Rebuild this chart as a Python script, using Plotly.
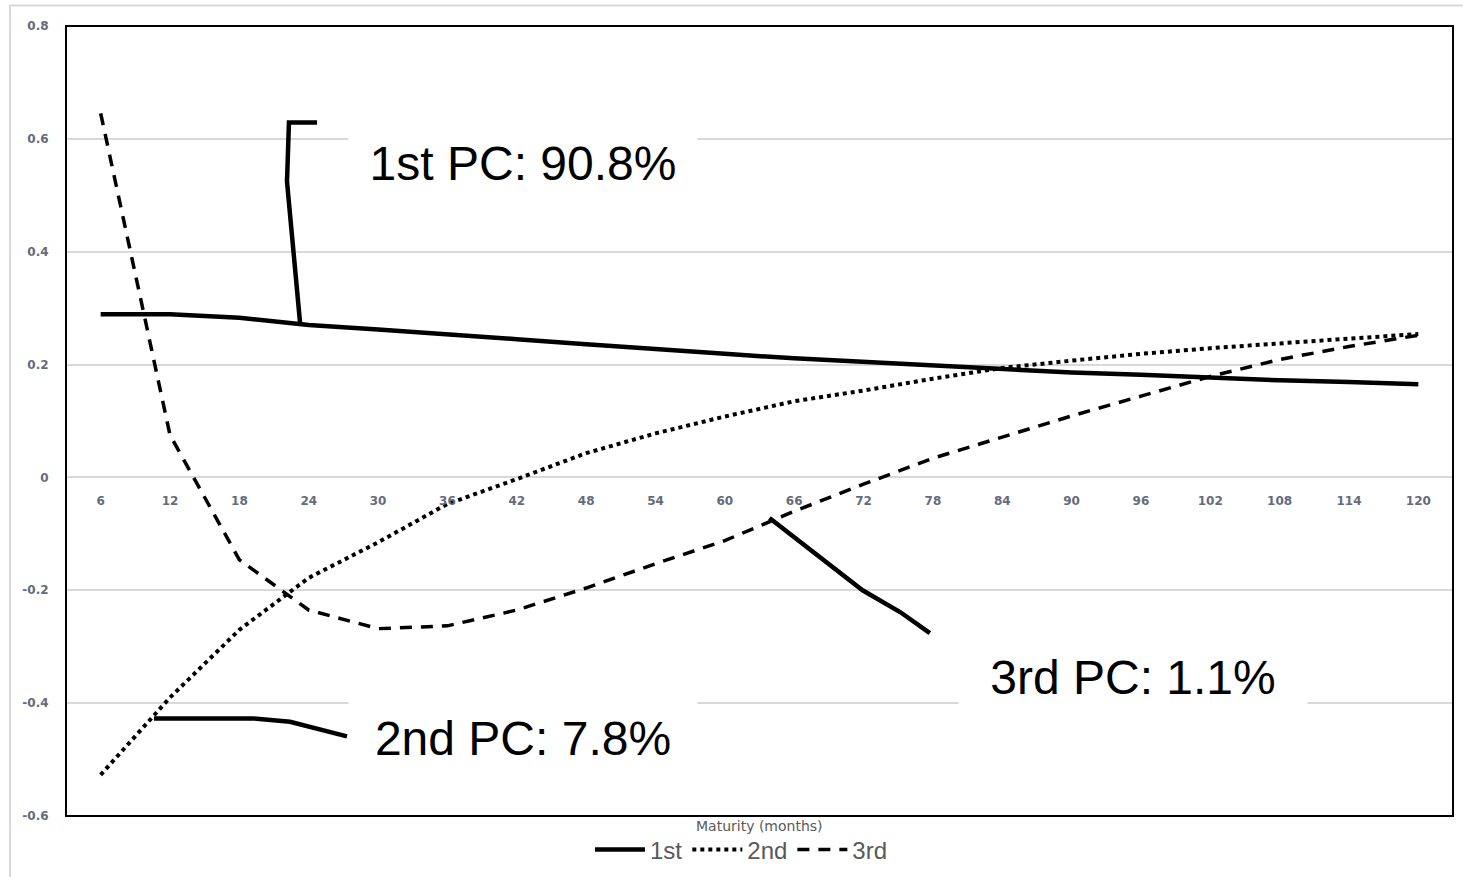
import plotly.graph_objects as go

# ---- data ----
maturity = [6, 12, 18, 24, 30, 36, 42, 48, 54, 60, 66, 72, 78, 84, 90, 96, 102, 108, 114, 120]
pc1 = [0.289, 0.289, 0.283, 0.270, 0.262, 0.254, 0.245, 0.236, 0.227, 0.219,
       0.211, 0.205, 0.198, 0.192, 0.186, 0.182, 0.176, 0.172, 0.169, 0.165]
pc2 = [-0.527, -0.390, -0.270, -0.178, -0.115, -0.047, -0.003, 0.043, 0.078, 0.108,
       0.135, 0.154, 0.175, 0.194, 0.207, 0.219, 0.229, 0.238, 0.246, 0.254]
pc3 = [0.645, 0.075, -0.146, -0.235, -0.268, -0.263, -0.235, -0.196, -0.153, -0.112,
       -0.060, -0.012, 0.034, 0.072, 0.109, 0.144, 0.179, 0.209, 0.232, 0.252]
series_names = ["1st", "2nd", "3rd"]

# callout labels and their leader lines (data coordinates)
label_texts = ["1st PC: 90.8%", "2nd PC: 7.8%", "3rd PC: 1.1%"]
label_x = [42.5, 42.55, 95.3]
label_y = [0.558, -0.461, -0.354]
pc1_leader_x = [24.72, 22.29, 22.12, 23.25]
pc1_leader_y = [0.629, 0.629, 0.524, 0.274]
pc2_leader_x = [10.61, 19.18, 22.38, 27.31]
pc2_leader_y = [-0.427, -0.427, -0.433, -0.459]
pc3_leader_x = [63.86, 71.92, 75.2, 77.74]
pc3_leader_y = [-0.072, -0.200, -0.239, -0.276]

y_ticks = [0.8, 0.6, 0.4, 0.2, 0, -0.2, -0.4, -0.6]
y_ticktext = ["0.8", "0.6", "0.4", "0.2", "0", "-0.2", "-0.4", "-0.6"]

tick_color = "#646b7c"
text_gray = "#595959"

fig = go.Figure()
fig.add_trace(go.Scatter(x=maturity, y=pc1, name=series_names[0], mode="lines",
                         line=dict(color="black", width=4.5)))
fig.add_trace(go.Scatter(x=maturity, y=pc2, name=series_names[1], mode="lines",
                         line=dict(color="black", width=4, dash="4px,4px")))
fig.add_trace(go.Scatter(x=maturity, y=pc3, name=series_names[2], mode="lines",
                         line=dict(color="black", width=3.5, dash="12px,9px")))

for lx, ly in [(pc1_leader_x, pc1_leader_y), (pc2_leader_x, pc2_leader_y), (pc3_leader_x, pc3_leader_y)]:
    fig.add_trace(go.Scatter(x=lx, y=ly, mode="lines", showlegend=False, hoverinfo="skip",
                             line=dict(color="black", width=4.5)))

for t, ax_, ay_ in zip(label_texts, label_x, label_y):
    fig.add_annotation(x=ax_, y=ay_, xref="x", yref="y", text=t, showarrow=False,
                       xanchor="center", yanchor="middle", bgcolor="white",
                       width=348, height=84, borderpad=0,
                       font=dict(family="Liberation Sans, Arial", size=48, color="black"))

fig.add_annotation(x=0.5, y=-0.0125, xref="paper", yref="paper", text="Maturity (months)",
                   showarrow=False, xanchor="center", yanchor="middle",
                   font=dict(family="DejaVu Sans", size=14, color=text_gray))

# plot-area box and outer chart border
fig.add_shape(type="rect", xref="paper", yref="paper", x0=0, x1=1, y0=0, y1=1,
              line=dict(color="black", width=2), layer="above")
fig.add_shape(type="rect", xref="paper", yref="paper", x0=-0.0404, x1=1.02, y0=-0.09, y1=1.026,
              line=dict(color="#d9d9d9", width=2), layer="below")

fig.update_layout(
    width=1463, height=877,
    margin=dict(l=66, r=10, t=26, b=61, autoexpand=False),
    paper_bgcolor="white", plot_bgcolor="white",
    showlegend=True,
    legend=dict(orientation="h", x=0.487, y=-0.043, xanchor="center", yanchor="middle",
                font=dict(family="Liberation Sans, Arial", size=24, color=text_gray),
                bgcolor="rgba(0,0,0,0)", itemwidth=50),
    xaxis=dict(range=[3, 123], tickvals=maturity, showgrid=False, zeroline=False, showline=False,
               anchor="free", position=0.6 / 1.4, ticks="outside", ticklen=0,
               ticklabelstandoff=12, automargin=False,
               tickfont=dict(family="DejaVu Sans", size=12, color=tick_color, weight="bold")),
    yaxis=dict(range=[-0.6, 0.8], tickvals=y_ticks, ticktext=y_ticktext, showgrid=True,
               gridcolor="#d9d9d9", gridwidth=2, zeroline=False, showline=False,
               ticks="outside", ticklen=0, ticklabelstandoff=14, automargin=False,
               tickfont=dict(family="DejaVu Sans", size=12, color=tick_color, weight="bold")),
)

fig.write_html("out.html", config={"displayModeBar": False},
               post_script="document.body.style.margin='0';document.body.style.overflow='hidden';")
